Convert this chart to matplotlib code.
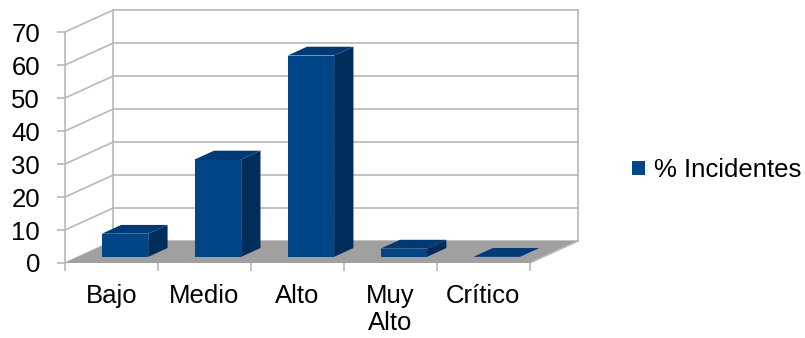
import matplotlib.pyplot as plt
from matplotlib.patches import Polygon, Patch

plt.rcParams['font.family'] = ['Liberation Sans', 'DejaVu Sans']

# datos
categorias = ["Bajo", "Medio", "Alto", "Muy\nAlto", "Crítico"]
incidentes = [7, 29.5, 61, 2.5, 0]
ticks_y = [0, 10, 20, 30, 40, 50, 60, 70]
serie = "% Incidentes"

# oblique "3d" look
DX = 0.52      # depth shift in category units
DY = 6.67      # depth shift in value units
Z0 = 0.28      # bar front depth
DZ = 0.40      # bar depth
ANCHO = 0.5
YMAX = 70
n = len(categorias)
FS = 18.5

gris = '#b8b8b8'
azul = '#004586'
azul_top = '#003a75'
azul_lado = '#002e5c'


def p(x, y, z):
    return (x + z * DX, y + z * DY)


fig = plt.figure(figsize=(8.05, 3.38), dpi=100)
ax = fig.add_axes([65 / 805, 75 / 338, (578 - 65) / 805, (263 - 10) / 338])
ax.set_xlim(0, n + DX)
ax.set_ylim(0, YMAX + DY)

# floor
ax.add_patch(Polygon([p(0, 0, 0), p(n, 0, 0), p(n, 0, 1), p(0, 0, 1)],
                     closed=True, facecolor='#a0a0a0', edgecolor='none', zorder=1))

# walls and grid
for v in ticks_y:
    a, b = p(0, v, 0), p(0, v, 1)
    ax.plot([a[0], b[0]], [a[1], b[1]], color=gris, lw=1.2, zorder=0, clip_on=False)
    a, b = p(0, v, 1), p(n, v, 1)
    ax.plot([a[0], b[0]], [a[1], b[1]], color=gris, lw=1.2, zorder=0, clip_on=False)
for x in [0, n]:
    a, b = p(x, 0, 1), p(x, YMAX, 1)
    ax.plot([a[0], b[0]], [a[1], b[1]], color=gris, lw=1.2, zorder=0, clip_on=False)
a, b = p(n, 0, 0), p(n, 0, 1)
ax.plot([a[0], b[0]], [a[1], b[1]], color=gris, lw=1.2, zorder=2, clip_on=False)

# bars
for i, v in enumerate(incidentes):
    x0 = i + 0.5 - ANCHO / 2
    x1 = i + 0.5 + ANCHO / 2
    z1 = Z0 + DZ
    front = [p(x0, 0, Z0), p(x1, 0, Z0), p(x1, v, Z0), p(x0, v, Z0)]
    lado = [p(x1, 0, Z0), p(x1, 0, z1), p(x1, v, z1), p(x1, v, Z0)]
    top = [p(x0, v, Z0), p(x1, v, Z0), p(x1, v, z1), p(x0, v, z1)]
    if v > 0:
        ax.add_patch(Polygon(front, closed=True, facecolor=azul, edgecolor='none', zorder=3))
        ax.add_patch(Polygon(lado, closed=True, facecolor=azul_lado, edgecolor='none', zorder=3))
    ax.add_patch(Polygon(top, closed=True, facecolor=azul_top, edgecolor='none', zorder=3))

# axes
for s in ['top', 'right', 'bottom']:
    ax.spines[s].set_visible(False)
ax.spines['left'].set_color(gris)
ax.spines['left'].set_linewidth(1.2)
ax.spines['left'].set_bounds(0, YMAX)
ax.set_yticks(ticks_y)
ax.tick_params(axis='y', colors=gris, labelcolor='black', labelsize=FS, length=6, width=1.2, pad=12)

ax.set_xticks(range(n + 1))
ax.set_xticklabels([])
ax.tick_params(axis='x', which='major', colors=gris, length=6, width=1.2)
ax.set_xticks([i + 0.5 for i in range(n)], minor=True)
ax.set_xticklabels(categorias, minor=True, fontsize=FS, linespacing=1.15, va='top')
ax.tick_params(axis='x', which='minor', length=0, pad=15, labelcolor='black')

fig.legend(handles=[Patch(facecolor=azul, label=serie)], loc='center left',
           bbox_to_anchor=(632 / 805, 1 - 170 / 338), frameon=False, fontsize=FS,
           handlelength=0.5, handleheight=0.5, handletextpad=0.35, borderpad=0, borderaxespad=0)

fig.savefig('out.png', dpi=100)
